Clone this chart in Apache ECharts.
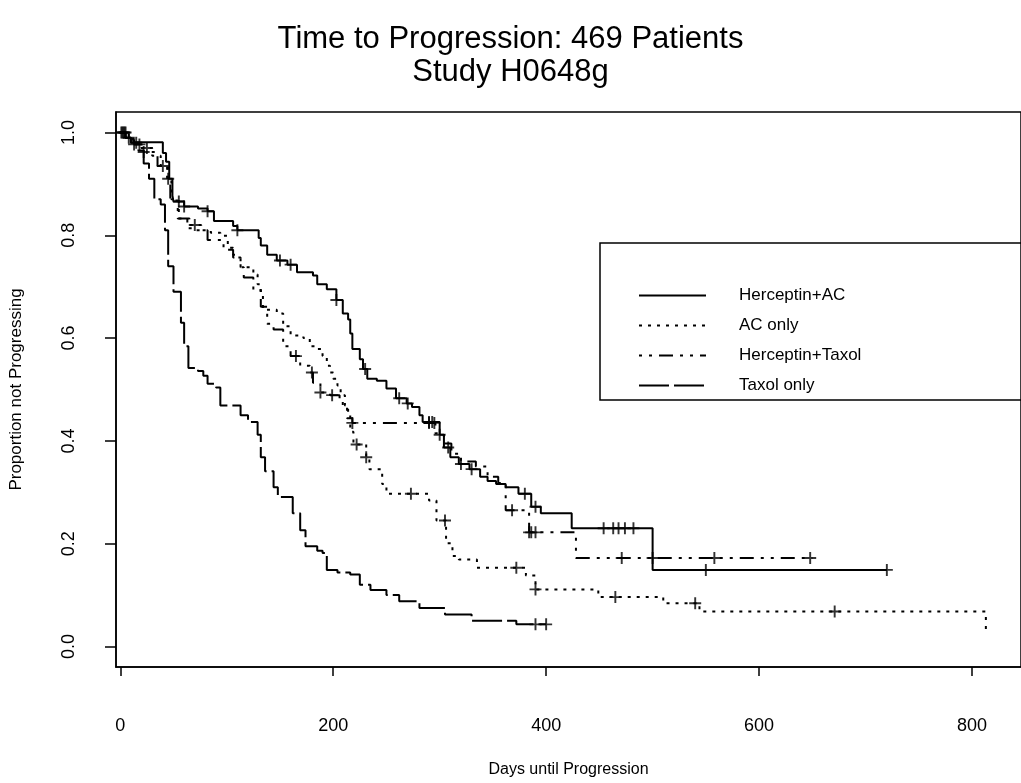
<!DOCTYPE html>
<html>
<head>
<meta charset="utf-8">
<title>Time to Progression</title>
<script src="https://cdn.jsdelivr.net/npm/echarts@6/dist/echarts.min.js"></script>
<style>
  html, body { margin: 0; padding: 0; background: #fff; }
  #chart { width: 1021px; height: 783px; }
</style>
</head>
<body>
<div id="chart"></div>
<script>
// Kaplan-Meier steps: day of each drop and proportion after it
const hacDays = [0, 5, 10, 40, 43, 46, 49, 50, 60, 73, 82, 88, 106, 110, 130, 132, 138, 147, 157, 166, 181, 185, 194, 203, 209, 214, 216, 218, 225, 228, 232, 241, 250, 259, 269, 274, 281, 284, 300, 304, 310, 318, 328, 338, 345, 353, 362, 374, 386, 395, 424, 500, 720];
const hacSurv = [1.0, 0.99, 0.981, 0.96, 0.943, 0.91, 0.877, 0.866, 0.856, 0.852, 0.847, 0.828, 0.818, 0.81, 0.795, 0.78, 0.762, 0.751, 0.743, 0.728, 0.722, 0.705, 0.695, 0.674, 0.648, 0.636, 0.609, 0.579, 0.559, 0.54, 0.521, 0.517, 0.502, 0.483, 0.473, 0.466, 0.45, 0.437, 0.412, 0.387, 0.368, 0.355, 0.345, 0.33, 0.322, 0.316, 0.31, 0.297, 0.272, 0.259, 0.23, 0.149, 0.149];

const acoDays = [0, 5, 12, 20, 30, 38, 44, 48, 55, 65, 76, 85, 94, 101, 106, 110, 113, 125, 129, 132, 134, 147, 153, 160, 172, 178, 185, 190, 194, 197, 200, 204, 207, 211, 214, 216, 219, 231, 234, 246, 250, 290, 297, 306, 312, 318, 335, 381, 390, 449, 510, 544, 813];
const acoSurv = [1.0, 0.99, 0.98, 0.97, 0.955, 0.935, 0.91, 0.87, 0.833, 0.82, 0.81, 0.805, 0.799, 0.776, 0.762, 0.757, 0.738, 0.724, 0.705, 0.686, 0.655, 0.648, 0.623, 0.605, 0.6, 0.584, 0.579, 0.565, 0.546, 0.533, 0.521, 0.508, 0.489, 0.469, 0.456, 0.418, 0.393, 0.368, 0.345, 0.316, 0.297, 0.284, 0.245, 0.201, 0.176, 0.169, 0.153, 0.138, 0.111, 0.096, 0.084, 0.068, 0.029];

const htxDays = [0, 8, 13, 22, 35, 45, 47, 54, 63, 69, 82, 97, 106, 113, 116, 125, 132, 138, 144, 153, 160, 169, 178, 181, 188, 197, 206, 209, 213, 218, 296, 304, 311, 320, 334, 345, 355, 362, 384, 428, 650];
const htxSurv = [1.0, 0.985, 0.977, 0.962, 0.935, 0.91, 0.868, 0.833, 0.814, 0.81, 0.791, 0.772, 0.757, 0.738, 0.718, 0.693, 0.661, 0.628, 0.617, 0.584, 0.565, 0.546, 0.533, 0.513, 0.494, 0.489, 0.483, 0.469, 0.444, 0.435, 0.415, 0.395, 0.375, 0.36, 0.35, 0.33, 0.318, 0.265, 0.222, 0.172, 0.172];

const txoDays = [0, 5, 10, 17, 22, 27, 32, 38, 42, 45, 50, 57, 60, 64, 73, 78, 82, 90, 94, 113, 120, 129, 132, 136, 144, 148, 162, 169, 174, 185, 190, 194, 204, 216, 225, 235, 250, 262, 281, 305, 330, 372, 400];
const txoSurv = [1.0, 0.99, 0.98, 0.965, 0.94, 0.91, 0.87, 0.86, 0.81, 0.74, 0.69, 0.63, 0.584, 0.542, 0.536, 0.527, 0.511, 0.504, 0.469, 0.45, 0.437, 0.412, 0.368, 0.341, 0.31, 0.291, 0.259, 0.226, 0.195, 0.186, 0.182, 0.149, 0.144, 0.14, 0.12, 0.11, 0.1, 0.088, 0.075, 0.062, 0.05, 0.043, 0.043];

// censored observations (+ marks), in days
const hacCensor = [3, 8, 55, 60, 82, 110, 150, 160, 203, 230, 262, 270, 290, 293, 300, 308, 320, 330, 380, 390, 454, 463, 468, 474, 482, 550, 720];
const acoCensor = [2, 15, 25, 70, 222, 231, 273, 305, 372, 390, 465, 540, 671];
const htxCensor = [5, 13, 18, 22, 40, 45, 165, 180, 188, 199, 218, 290, 295, 368, 384, 386, 390, 471, 500, 558, 648];
const txoCensor = [1, 4, 390, 400];

const seriesNames = ["Herceptin+AC", "AC only", "Herceptin+Taxol", "Taxol only"];
const xTicks = [0, 200, 400, 600, 800];
const yTicks = [0, 0.2, 0.4, 0.6, 0.8, 1.0];

const FONT = "Liberation Sans";
const PLUS = "path://M4.2,0h1.6v4.2h4.2v1.6h-4.2v4.2h-1.6v-4.2h-4.2v-1.6h4.2z";

const survAt = (days, surv, t) => {
  let s = surv[0];
  for (let i = 0; i < days.length; i++) {
    if (days[i] <= t) s = surv[i];
  }
  return s;
};

const groups = [
  { name: seriesNames[0], days: hacDays, surv: hacSurv, censor: hacCensor, dash: "solid" },
  { name: seriesNames[1], days: acoDays, surv: acoSurv, censor: acoCensor, dash: [3, 6] },
  { name: seriesNames[2], days: htxDays, surv: htxSurv, censor: htxCensor, dash: [3, 7, 3, 7, 14, 7] },
  { name: seriesNames[3], days: txoDays, surv: txoSurv, censor: txoCensor, dash: [30, 5] },
];

const series = [];
groups.forEach((g) => {
  series.push({
    name: g.name,
    type: "line",
    step: "end",
    symbol: "none",
    showSymbol: false,
    silent: true,
    data: g.days.map((d, i) => [d, g.surv[i]]),
    lineStyle: { color: "#000", width: 2, type: g.dash },
    itemStyle: { color: "#000" },
  });
  series.push({
    name: g.name + " censored",
    type: "scatter",
    symbol: PLUS,
    symbolSize: 12,
    silent: true,
    data: g.censor.map((t) => [t, survAt(g.days, g.surv, t)]),
    itemStyle: { color: "#000" },
  });
});

const chart = echarts.init(document.getElementById("chart"));
chart.setOption({
  animation: false,
  backgroundColor: "#fff",
  title: {
    text: "Time to Progression: 469 Patients\nStudy H0648g",
    left: "center",
    top: 18,
    textStyle: { fontFamily: FONT, fontSize: 31, fontWeight: "normal", color: "#000", lineHeight: 33 },
  },
  grid: {
    left: 115, top: 112, width: 910, height: 564,
    show: true, borderColor: "#000", borderWidth: 1.5,
  },
  legend: {
    data: seriesNames,
    orient: "vertical",
    left: 633,
    top: 282,
    itemWidth: 67,
    itemHeight: 14,
    itemGap: 13,
    selectedMode: false,
    itemStyle: { opacity: 0 },
    textStyle: { fontFamily: FONT, fontSize: 17, color: "#000", padding: [0, 0, 0, 28] },
  },
  graphic: [{
    type: "rect",
    shape: { x: 600, y: 243, width: 440, height: 157 },
    style: { fill: "none", stroke: "#000", lineWidth: 1.5 },
    z: 5,
  }],
  xAxis: {
    type: "value",
    min: -4,
    max: 846,
    name: "Days until Progression",
    nameLocation: "middle",
    nameGap: 95,
    nameTextStyle: { fontFamily: FONT, fontSize: 16, color: "#000" },
    axisLine: { show: true, onZero: false, lineStyle: { color: "#000", width: 1.5 } },
    axisTick: { show: true, length: 9, customValues: xTicks, lineStyle: { color: "#000", width: 1.5 } },
    axisLabel: { customValues: xTicks, margin: 50, fontFamily: FONT, fontSize: 18, color: "#000" },
    splitLine: { show: false },
  },
  yAxis: {
    type: "value",
    min: -0.04,
    max: 1.04,
    name: "Proportion not Progressing",
    nameLocation: "middle",
    nameGap: 91,
    nameTextStyle: { fontFamily: FONT, fontSize: 17, color: "#000" },
    axisLine: { show: true, onZero: false, lineStyle: { color: "#000", width: 1.5 } },
    axisTick: { show: true, length: 11, customValues: yTicks, lineStyle: { color: "#000", width: 1.5 } },
    axisLabel: {
      customValues: yTicks,
      rotate: 90,
      margin: 38,
      fontFamily: FONT,
      fontSize: 18,
      color: "#000",
      formatter: (v) => v.toFixed(1),
    },
    splitLine: { show: false },
  },
  series: series,
});
window.addEventListener("resize", () => chart.resize());
</script>
</body>
</html>
